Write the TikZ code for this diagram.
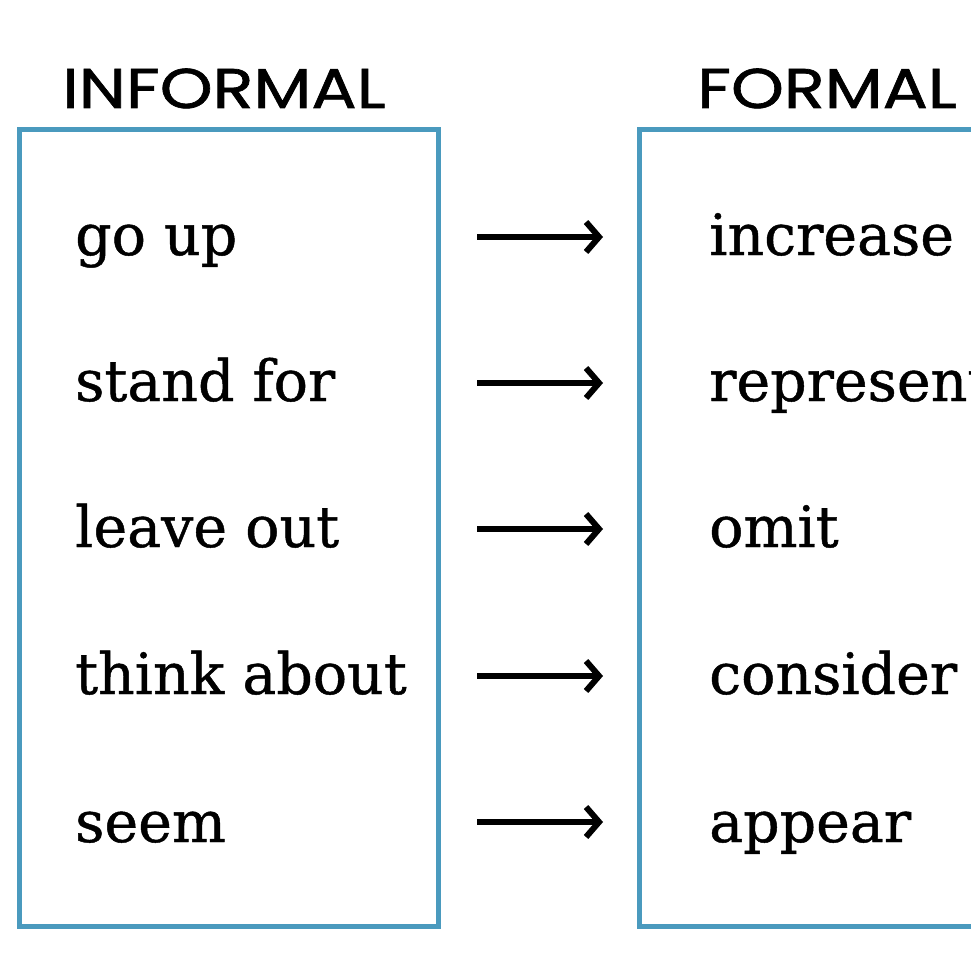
\documentclass[tikz,border=0pt]{standalone}
\usepackage{fontspec}
\setmainfont{DejaVu Serif}[FakeBold=0.8]
\newfontfamily\headfont{Poppins}[FakeStretch=1.2,FakeBold=1.2]
\usetikzlibrary{arrows.meta,positioning}
\definecolor{boxblue}{RGB}{74,154,190}

\begin{document}
\begin{tikzpicture}[x=1pt,y=-1pt]

\tikzset{
  wordbox/.style={draw=boxblue, line width=4.5pt, inner sep=0pt, anchor=north west,
    minimum width=419pt, minimum height=797pt},
  heading/.style={font=\headfont\fontsize{56}{56}\selectfont, anchor=base west, inner sep=0pt},
  word/.style={font=\fontsize{57}{57}\selectfont, anchor=base west, inner sep=0pt},
  maps/.style={line width=6pt, -{Straight Barb[length=13pt,width=30pt,line width=6pt]}}
}

\useasboundingbox (0,0) rectangle (971,971);
\clip (0,0) rectangle (971,971);
\fill[white] (0,0) rectangle (971,971);

\node[heading] (informal) at (62,108) {INFORMAL};
\node[heading] (formal) at (697,108) {FORMAL};

\node[wordbox] (leftbox) at (17,127) {};
\node[wordbox] (rightbox) at (637,127) {};

\node[word] (goup) at (75,255) {go up};
\node[word] (standfor) at (75,401) {stand for};
\node[word] (leaveout) at (75,547) {leave out};
\node[word] (thinkabout) at (75,694) {think about};
\node[word] (seem) at (75,842) {seem};

\node[word] (increase) at (709,255) {increase};
\node[word] (represent) at (709,401) {represent};
\node[word] (omit) at (709,547) {omit};
\node[word] (consider) at (709,694) {consider};
\node[word] (appear) at (709,842) {appear};

\coordinate (from1) at (477,237); \coordinate (to1) at (603,237);
\coordinate (from2) at (477,383); \coordinate (to2) at (603,383);
\coordinate (from3) at (477,529); \coordinate (to3) at (603,529);
\coordinate (from4) at (477,676); \coordinate (to4) at (603,676);
\coordinate (from5) at (477,822); \coordinate (to5) at (603,822);

\draw[maps] (from1) -- (to1);
\draw[maps] (from2) -- (to2);
\draw[maps] (from3) -- (to3);
\draw[maps] (from4) -- (to4);
\draw[maps] (from5) -- (to5);

\end{tikzpicture}
\end{document}
